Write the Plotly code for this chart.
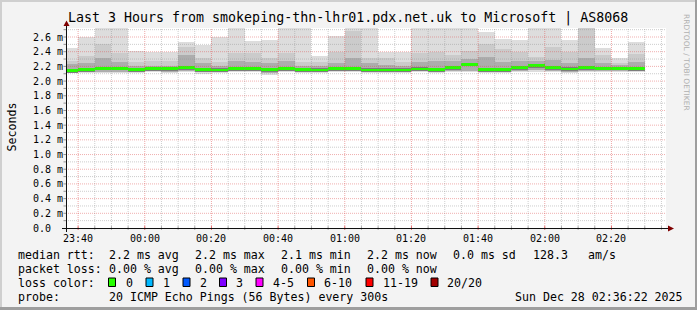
import plotly.graph_objects as go
import pandas as pd

# ---------------- data (milliseconds) ----------------
bar_start = pd.date_range("2025-12-27 23:35:00", periods=35, freq="5min")
smoke_top = [2.445, 2.595, 2.80, 2.80, 2.41, 2.40, 2.40, 2.53, 2.49, 2.60,
             2.80, 2.54, 2.56, 2.80, 2.80, 2.345, 2.61, 2.80, 2.80, 2.40,
             2.40, 2.80, 2.80, 2.80, 2.80, 2.67, 2.57, 2.56, 2.80, 2.80,
             2.56, 2.80, 2.455, 2.31, 2.53]
smoke_upper = [2.27, 2.34, 2.50, 2.38, 2.26, 2.28, 2.27, 2.47, 2.31, 2.26,
               2.38, 2.38, 2.31, 2.38, 2.26, 2.26, 2.40, 2.68, 2.31, 2.31,
               2.26, 2.38, 2.40, 2.355, 2.41, 2.51, 2.44, 2.40, 2.33, 2.47,
               2.40, 2.72, 2.355, 2.25, 2.37]
smoke_inner = [2.23, 2.24, 2.31, 2.26, 2.20, 2.21, 2.21, 2.36, 2.25, 2.21,
               2.27, 2.26, 2.24, 2.27, 2.21, 2.21, 2.25, 2.32, 2.24, 2.22,
               2.21, 2.26, 2.28, 2.27, 2.30, 2.33, 2.26, 2.27, 2.27, 2.29,
               2.25, 2.32, 2.25, 2.22, 2.26]
median_rtt = [2.145, 2.16, 2.175, 2.175, 2.155, 2.17, 2.17, 2.185, 2.155, 2.15,
              2.17, 2.17, 2.155, 2.17, 2.155, 2.15, 2.17, 2.17, 2.15, 2.15,
              2.15, 2.165, 2.155, 2.18, 2.23, 2.155, 2.155, 2.185, 2.21, 2.185,
              2.165, 2.18, 2.175, 2.175, 2.17]
smoke_lower = [2.125, 2.13, 2.13, 2.13, 2.13, 2.14, 2.13, 2.14, 2.12, 2.13,
               2.14, 2.14, 2.11, 2.14, 2.13, 2.13, 2.14, 2.14, 2.13, 2.13,
               2.13, 2.14, 2.13, 2.14, 2.14, 2.13, 2.13, 2.14, 2.15, 2.14,
               2.13, 2.14, 2.14, 2.14, 2.14]
smoke_bottom = [2.11, 2.11, 2.11, 2.11, 2.11, 2.12, 2.11, 2.12, 2.09, 2.11,
                2.12, 2.12, 2.08, 2.12, 2.11, 2.11, 2.12, 2.12, 2.11, 2.11,
                2.11, 2.12, 2.11, 2.12, 2.12, 2.11, 2.11, 2.12, 2.13, 2.12,
                2.11, 2.12, 2.12, 2.12, 2.12]

y_tick_vals = [0.0, 0.2, 0.4, 0.6, 0.8, 1.0, 1.2, 1.4, 1.6, 1.8, 2.0, 2.2, 2.4, 2.6]
y_tick_text = ["0.0", "0.2 m", "0.4 m", "0.6 m", "0.8 m", "1.0 m", "1.2 m", "1.4 m",
               "1.6 m", "1.8 m", "2.0 m", "2.2 m", "2.4 m", "2.6 m"]
x_tick_vals = pd.date_range("2025-12-27 23:40:00", "2025-12-28 02:20:00", freq="20min")
x_tick_text = [t.strftime("%H:%M") for t in x_tick_vals]

loss_labels = ["0", "1", "2", "3", "4-5", "6-10", "11-19", "20/20"]
loss_colors = ["#26ff00", "#00b8ff", "#0059ff", "#7e00ff", "#ff00ff", "#ff5500", "#ff0000", "#a10000"]

title = "Last 3 Hours from smokeping-thn-lhr01.pdx.net.uk to Microsoft | AS8068"
x_start = "2025-12-27 23:36:22"
x_end = "2025-12-28 02:36:22"

# ---------------- layout geometry ----------------
W, H = 697, 310
ML, PW = 66, 600          # plot left, plot width
PT, PH = 28, 200          # plot top, plot height
Y_MAX = 2.7226
MONO = "DejaVu Sans Mono"
BAR_W = 300000


def px(p):
    return (p - ML) / PW


def py(p):
    return (PT + PH - p) / PH


fig = go.Figure()


def band(lo, hi, color):
    fig.add_trace(go.Bar(
        x=bar_start, base=lo, y=[h - l for h, l in zip(hi, lo)],
        width=[BAR_W] * len(lo), offset=0, marker=dict(color=color, line=dict(width=0)),
        hoverinfo="skip", showlegend=False))


band(smoke_bottom, smoke_top, "#dddddd")
band(smoke_lower, smoke_upper, "#cbcbcb")
band(smoke_lower, smoke_inner, "#adadad")
band([m - 0.03 for m in median_rtt], [m + 0.022 for m in median_rtt], "#7c7c7c")
band([m - 0.019 for m in median_rtt], [m + 0.019 for m in median_rtt], loss_colors[0])

shapes = []
# grid (drawn above data, like rrdtool)
grid_min = pd.date_range("2025-12-27 23:40:00", "2025-12-28 02:35:00", freq="5min")
for t in grid_min:
    major = (t.minute % 20 == 0)
    shapes.append(dict(type="line", xref="x", yref="paper", x0=t, x1=t, y0=0, y1=1,
                       layer="above",
                       line=dict(color="rgba(222,80,80,0.5)" if major else "rgba(143,143,143,0.45)",
                                 width=1, dash="1px,1px")))
    shapes.append(dict(type="line", xref="x", yref="paper", x0=t, x1=t,
                       y0=py(230), y1=py(226), layer="above",
                       line=dict(color="rgba(222,80,80,0.8)" if major else "rgba(143,143,143,0.7)",
                                 width=1)))
for k in range(1, 28):
    v = k / 10
    major = (k % 2 == 0)
    shapes.append(dict(type="line", xref="paper", yref="y", x0=0, x1=1, y0=v, y1=v,
                       layer="above",
                       line=dict(color="rgba(222,80,80,0.45)" if major else "rgba(143,143,143,0.45)",
                                 width=1, dash="1px,1px")))
    shapes.append(dict(type="line", xref="paper", yref="y", x0=px(63.5), x1=px(66.5),
                       y0=v, y1=v, layer="above",
                       line=dict(color="rgba(80,80,80,0.6)", width=1)))

# axes
shapes.append(dict(type="line", xref="paper", yref="paper", x0=px(66.5), x1=px(66.5),
                   y0=py(232), y1=py(25), layer="above", line=dict(color="#101010", width=1)))
shapes.append(dict(type="line", xref="paper", yref="paper", x0=px(62), x1=px(669),
                   y0=py(228.5), y1=py(228.5), layer="above", line=dict(color="#101010", width=1)))
# arrows
shapes.append(dict(type="path", xref="paper", yref="paper", layer="above",
                   path=f"M {px(63.5)} {py(26)} L {px(69.5)} {py(26)} L {px(66.5)} {py(20.5)} Z",
                   fillcolor="#7f0000", line=dict(width=0)))
shapes.append(dict(type="path", xref="paper", yref="paper", layer="above",
                   path=f"M {px(668)} {py(225.5)} L {px(668)} {py(231.5)} L {px(674)} {py(228.5)} Z",
                   fillcolor="#7f0000", line=dict(width=0)))

# frame
shapes.append(dict(type="rect", xref="paper", yref="paper", x0=px(0), x1=px(W), y0=py(0), y1=py(2),
                   fillcolor="#cfcfcf", line=dict(width=0), layer="above"))
shapes.append(dict(type="rect", xref="paper", yref="paper", x0=px(0), x1=px(2), y0=py(0), y1=py(H),
                   fillcolor="#cfcfcf", line=dict(width=0), layer="above"))
shapes.append(dict(type="rect", xref="paper", yref="paper", x0=px(0), x1=px(W), y0=py(H - 3), y1=py(H),
                   fillcolor="#9e9e9e", line=dict(width=0), layer="above"))
shapes.append(dict(type="rect", xref="paper", yref="paper", x0=px(W - 2), x1=px(W), y0=py(0), y1=py(H),
                   fillcolor="#9e9e9e", line=dict(width=0), layer="above"))

annotations = []


def text(x, y, s, size=11.6, anchor="left", color="#000000", angle=0, family=MONO, xref="paper"):
    annotations.append(dict(x=x if xref != "paper" else px(x), y=py(y), xref=xref, yref="paper",
                            text=s, showarrow=False, xanchor=anchor, yanchor="middle",
                            textangle=angle, font=dict(family=family, size=size, color=color)))


# title
text(348, 18.5, title, size=13.3, anchor="center")
# y label
text(11, 127.5, "Seconds", size=11.6, anchor="center", angle=-90)
# y tick labels
for v, s in zip(y_tick_vals, y_tick_text):
    annotations.append(dict(x=px(30.5), y=v, xref="paper", yref="y", text=s, showarrow=False,
                            xanchor="left", yanchor="middle",
                            font=dict(family=MONO, size=10, color="#000000")))
# x tick labels
for t, s in zip(x_tick_vals, x_tick_text):
    text(t, 238, s, size=10, anchor="center", xref="x")
# watermark
text(687, 62, "RRDTOOL / TOBI OETIKER", size=7.5, anchor="center", angle=90,
     color="#b0b0b0", family="DejaVu Sans")

# legend rows
rows = [
    (254.5, [(16, "median rtt:"), (107.3, "2.2 ms avg"), (193.3, "2.2 ms max"),
             (279.3, "2.1 ms min"), (365, "2.2 ms now"), (451, "0.0 ms sd"),
             (530.7, "128.3"), (586, "am/s")]),
    (268.5, [(16, "packet loss:"), (107.3, "0.00 % avg"), (193.3, "0.00 % max"),
             (279.3, "0.00 % min"), (365, "0.00 % now")]),
    (282.5, [(16, "loss color:")]),
    (296.5, [(16, "probe:"), (107.3, "20 ICMP Echo Pings (56 Bytes) every 300s"),
             (513.3, "Sun Dec 28 02:36:22 2025")]),
]
for yy, items in rows:
    for xx, s in items:
        text(xx, yy, s)

box_x = [108.5, 146, 183, 219.5, 256, 307.5, 366, 431]
lab_x = [124, 161, 197.7, 234.3, 270.7, 322.3, 380.7, 445.3]
for bx, lx, lab, col in zip(box_x, lab_x, loss_labels, loss_colors):
    shapes.append(dict(type="rect", xref="paper", yref="paper", x0=px(bx), x1=px(bx + 7),
                       y0=py(286.5), y1=py(278), fillcolor=col,
                       line=dict(color="#000000", width=1), layer="above"))
    text(lx, 282.5, lab)

fig.update_layout(
    width=W, height=H,
    margin=dict(l=ML, r=W - ML - PW, t=PT, b=H - PT - PH, pad=0),
    paper_bgcolor="#f3f3f3", plot_bgcolor="#ffffff",
    barmode="overlay", bargap=0,
    showlegend=False,
    xaxis=dict(type="date", range=[x_start, x_end], showgrid=False, zeroline=False,
               showticklabels=False, ticks="", showline=False, fixedrange=True),
    yaxis=dict(range=[0, Y_MAX], showgrid=False, zeroline=False, showticklabels=False,
               ticks="", showline=False, fixedrange=True),
    shapes=shapes, annotations=annotations,
)

fig.write_html("out.html")
